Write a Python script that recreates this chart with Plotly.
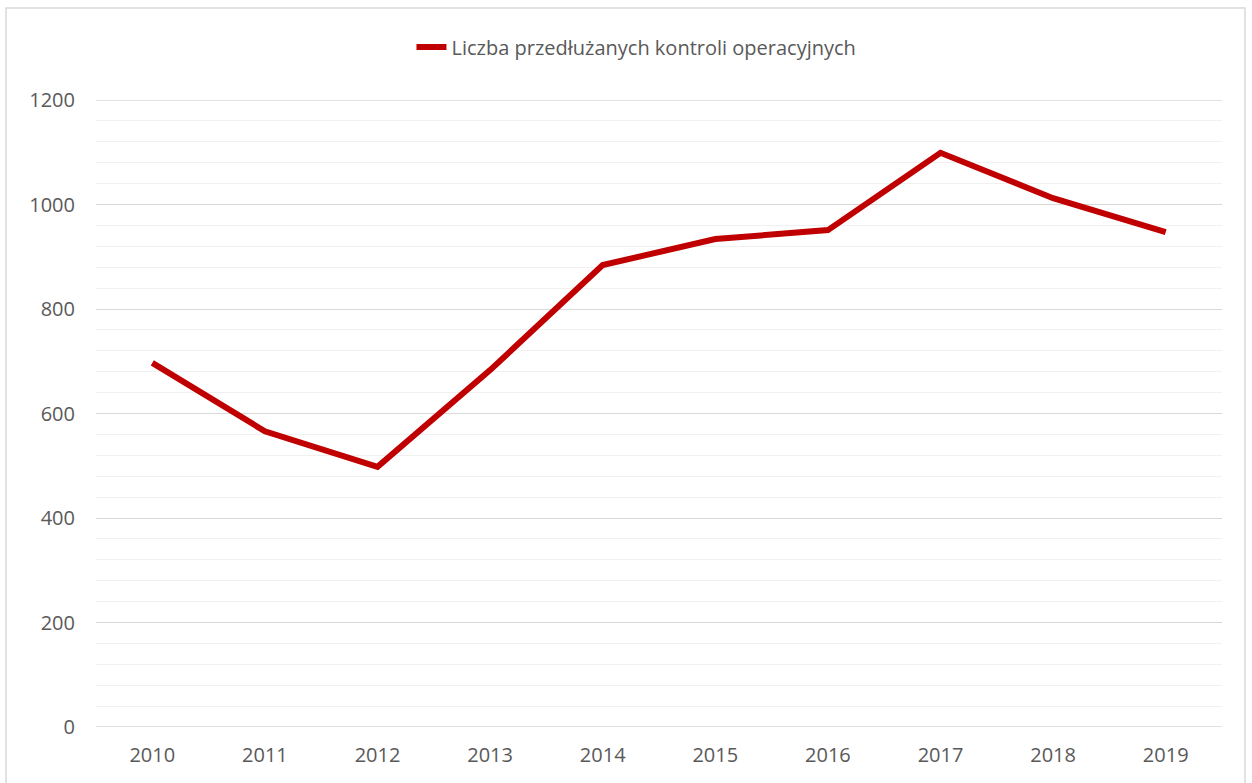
import plotly.graph_objects as go

years = ["2010", "2011", "2012", "2013", "2014", "2015", "2016", "2017", "2018", "2019"]
values = [697, 566, 498, 683, 884, 934, 951, 1099, 1012, 947]
series_name = "Liczba przedłużanych kontroli operacyjnych"
y_ticks = [0, 200, 400, 600, 800, 1000, 1200]

W, H = 1252, 783
L, R, T, B = 96, 30, 100, 56
pw, ph = W - L - R, H - T - B

def px_x(x):
    return (x - L) / pw

def px_y(y):
    return (H - B - y) / ph

fig = go.Figure()
fig.add_trace(go.Scatter(
    x=years, y=values, mode="lines", name=series_name,
    line=dict(color="#C00000", width=6),
))

edge_lines = [dict(type="line", xref="paper", yref="y", x0=0, x1=1, y0=v, y1=v,
                   line=dict(color="#d9d9d9", width=1.3), layer="below")
              for v in (y_ticks[0], y_ticks[-1])]

fig.update_layout(
    width=W, height=H,
    margin=dict(l=L, r=R, t=T, b=B),
    paper_bgcolor="white", plot_bgcolor="white",
    font=dict(family="Open Sans, Liberation Sans, sans-serif", size=20, color="#595959"),
    showlegend=True,
    legend=dict(orientation="h", x=0.48, xanchor="center", y=px_y(47), yanchor="middle",
                font=dict(size=20, color="#595959")),
    xaxis=dict(type="category", range=[-0.5, len(years) - 0.5], showgrid=False,
               zeroline=False, showline=False, ticks="", ticklabelstandoff=14,
               tickfont=dict(size=20, color="#595959")),
    yaxis=dict(range=[0, 1200], tickvals=y_ticks, showgrid=True, gridcolor="#d9d9d9",
               gridwidth=1.3, zeroline=False,
               showline=False, ticks="",
               ticklabelstandoff=20,
               minor=dict(dtick=40, showgrid=True, gridcolor="#f0f0f0", gridwidth=1),
               tickfont=dict(size=20, color="#595959")),
    shapes=[dict(type="rect", xref="paper", yref="paper",
                 x0=px_x(6), x1=px_x(1245), y0=px_y(795), y1=px_y(8),
                 line=dict(color="#d9d9d9", width=1.5), layer="below")] + edge_lines,
)

fig.write_html("out.html", post_script="document.body.style.margin='0';",
               config={"displayModeBar": False})
